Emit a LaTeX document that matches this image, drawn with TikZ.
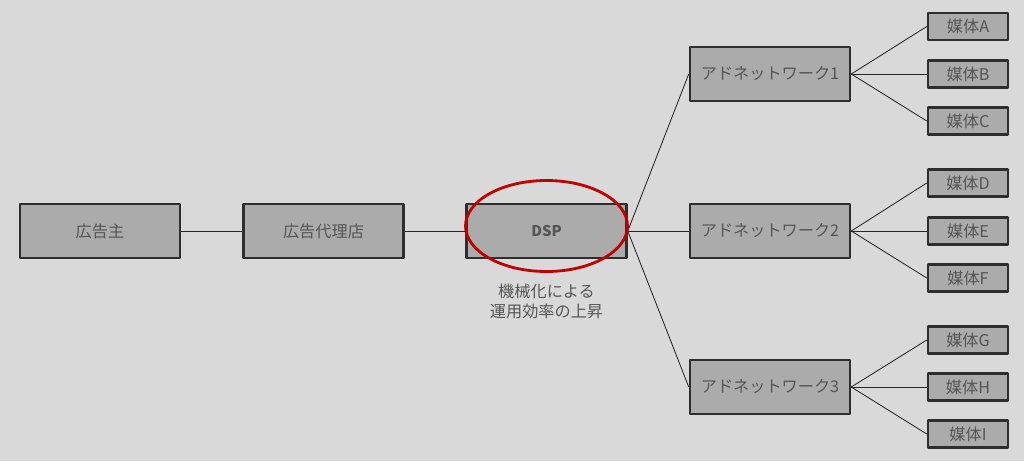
\documentclass[tikz,border=0pt]{standalone}
\usepackage{fontspec}
\setmainfont{Noto Sans CJK JP}
\usetikzlibrary{calc,positioning,shapes.geometric}
\definecolor{bgcol}{HTML}{D9D9D9}
\definecolor{boxcol}{HTML}{ABABAB}
\definecolor{edgecol}{HTML}{2E2E2E}
\definecolor{txtcol}{HTML}{555555}
\definecolor{ringcol}{HTML}{C00000}
\tikzset{
  bigbox/.style={draw=edgecol,fill=boxcol,line width=1.8pt,minimum width=160*0.025cm,minimum height=54*0.025cm,inner sep=0pt,text=txtcol,font=\fontsize{11.5}{13}\selectfont},
  smallbox/.style={draw=edgecol,fill=boxcol,line width=1.8pt,minimum width=80*0.025cm,minimum height=27*0.025cm,inner sep=0pt,text=txtcol,font=\fontsize{11.5}{13}\selectfont},
  link/.style={draw=black!85,line width=0.6pt}
}
\begin{document}
\begin{tikzpicture}[x=0.025cm,y=-0.025cm,line join=round]
\fill[bgcol] (0,0) rectangle (1024,461);
\useasboundingbox (0,0) rectangle (1024,461);
\node[bigbox] (adv) at (100,231) {広告主};
\node[bigbox] (agency) at (323.5,231) {広告代理店};
\node[bigbox,font=\fontsize{10.5}{12}\selectfont\bfseries] (dsp) at (546.5,231) {DSP};
\node[bigbox] (nw1) at (770,74) {アドネットワーク1};
\node[bigbox] (nw2) at (770,231) {アドネットワーク2};
\node[bigbox] (nw3) at (770,387) {アドネットワーク3};
\draw[link] (adv.east)--(agency.west);
\draw[link] (agency.east)--(dsp.west);
\foreach \n in {nw1,nw2,nw3}{\draw[link] (dsp.east)--(\n.west);}
\foreach \m/\y/\n in {A/26.5/nw1,B/74/nw1,C/121/nw1,D/183/nw2,E/231/nw2,F/278/nw2,G/340/nw3,H/387/nw3,I/434/nw3}{
  \node[smallbox] (media\m) at (968,\y) {媒体\m};
  \draw[link] (\n.east)--(media\m.west);}
\node[ellipse,draw=ringcol,line width=2pt,minimum width=162*0.025cm,minimum height=91*0.025cm] (ring) at (546.5,226) {};
\node[text=txtcol,align=center,font=\fontsize{11.5}{14}\selectfont,below=20*0.025cm of dsp.south] (note) {機械化による\\運用効率の上昇};
\end{tikzpicture}
\end{document}
